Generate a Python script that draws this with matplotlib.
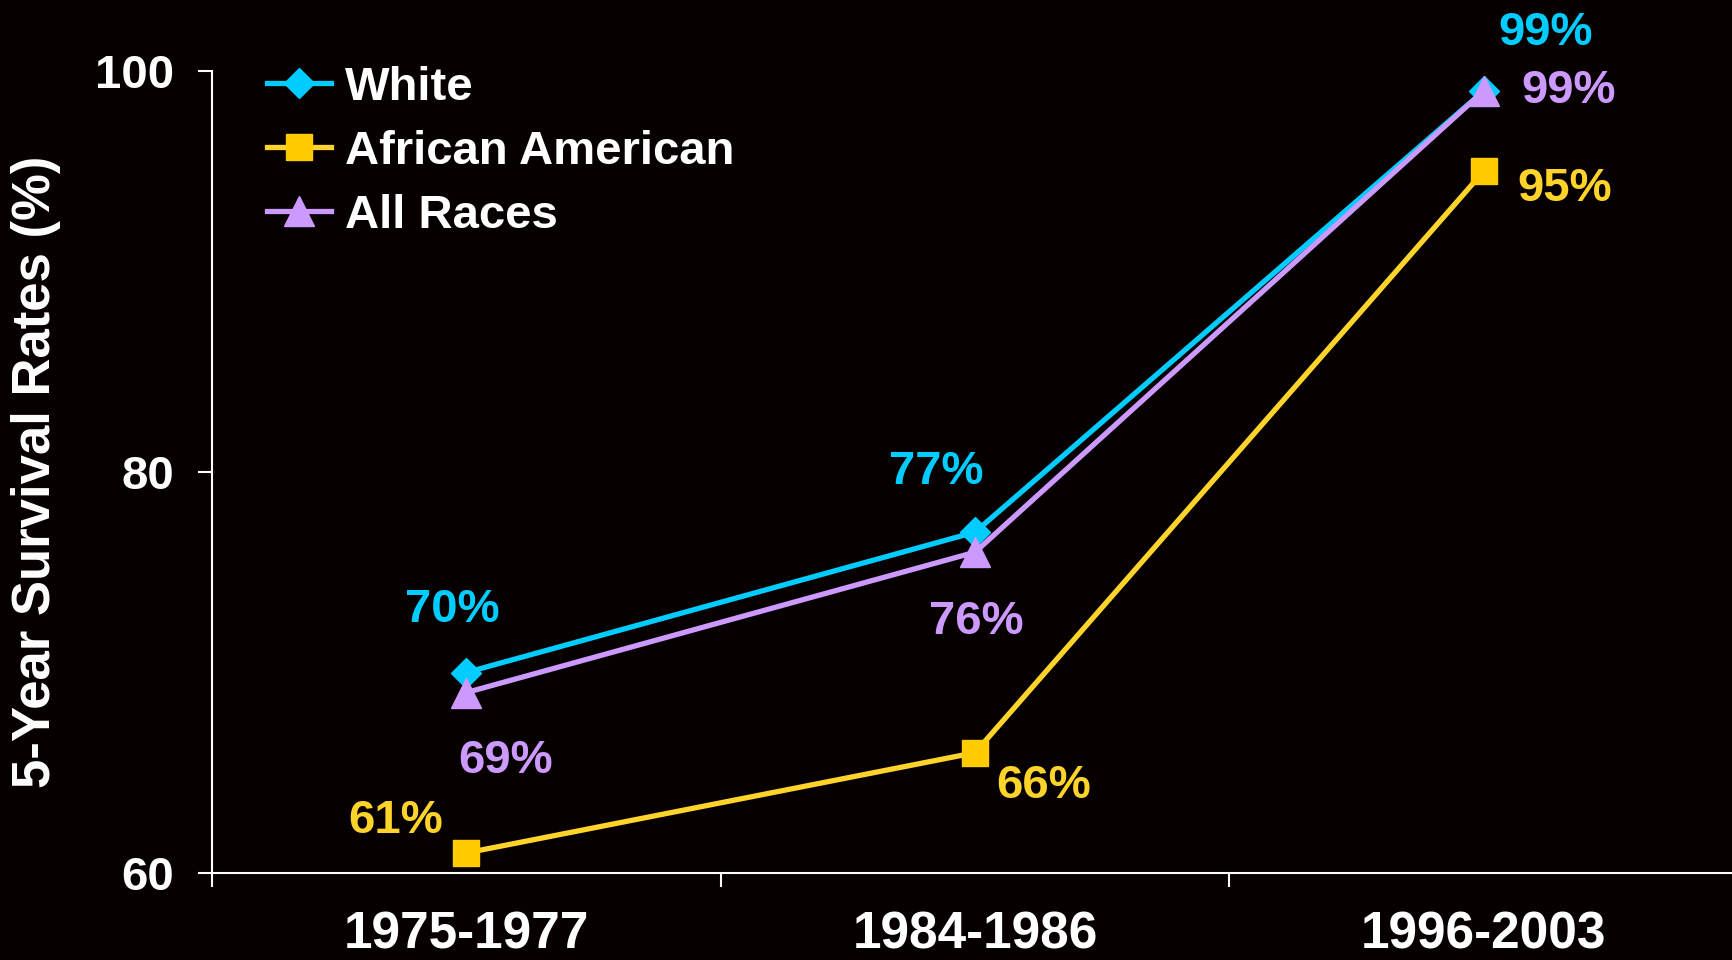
import numpy as np
import matplotlib
matplotlib.use('Agg')
import matplotlib.pyplot as plt

plt.rcParams['font.family'] = ['Liberation Sans', 'DejaVu Sans']
plt.rcParams['font.weight'] = 'bold'

periods = ['1975-1977', '1984-1986', '1996-2003']
white = [70, 77, 99]
african_american = [61, 66, 95]
all_races = [69, 76, 99]

bg = '#060000'
c_white = '#00CCFF'
c_aa = '#FFD42A'
c_aa_marker = '#FFCC00'
c_all = '#CC99FF'

fig = plt.figure(figsize=(17.33, 9.6), dpi=100, facecolor=bg)
ax = fig.add_axes([212 / 1733, 1 - 873 / 960, (1738 - 212) / 1733, (873 - 71) / 960])
ax.set_facecolor(bg)

x = np.arange(len(periods))
ax.plot(x, african_american, color=c_aa, lw=3.8, marker='s', ms=19,
        mfc=c_aa_marker, mec=c_aa_marker, label='African American', clip_on=False, zorder=3)
ax.plot(x, white, color=c_white, lw=3.8, marker='D', ms=15,
        mfc=c_white, mec=c_white, label='White', clip_on=False, zorder=4)
ax.plot(x, all_races, color=c_all, lw=3.8, marker='^', ms=21,
        mfc=c_all, mec=c_all, label='All Races', clip_on=False, zorder=5)

# data labels (offsets in pixels from each point)
white_off = [(-14, 63), (-39, 60), (62, 58)]
all_off = [(39, -68), (1, -70), (85, 0)]
aa_off = [(-71, 32), (69, -33), (81, -18)]
for vals, offs, col in [(white, white_off, c_white), (all_races, all_off, c_all),
                        (african_american, aa_off, c_aa)]:
    for i, v in enumerate(vals):
        ax.annotate(f'{v}%', (i, v), xytext=offs[i], textcoords='offset pixels',
                    ha='center', va='center', fontsize=34, fontweight='bold',
                    color=col, annotation_clip=False)

ax.set_xlim(-0.5, 2.5)
ax.set_ylim(60, 100)
ax.set_yticks([60, 80, 100])
ax.set_xticks(x)
ax.set_xticklabels(periods)
ax.set_xticks([-0.5, 0.5, 1.5], minor=True)
ax.tick_params(axis='x', which='major', length=0, pad=27, labelsize=37, colors='white')
ax.tick_params(axis='x', which='minor', length=10, width=1.5, direction='out', color='white')
ax.tick_params(axis='y', length=10, width=1.5, pad=17, labelsize=34, colors='white')
for lab in ax.get_xticklabels() + ax.get_yticklabels():
    lab.set_fontweight('bold')

for s in ['top', 'right']:
    ax.spines[s].set_visible(False)
for s in ['left', 'bottom']:
    ax.spines[s].set_color('white')
    ax.spines[s].set_linewidth(1.5)

fig.text(36 / 1733, 1 - 472 / 960, '5-Year Survival Rates (%)', rotation=90,
         ha='center', va='center', fontsize=38, fontweight='bold', color='white')

h, l = ax.get_legend_handles_labels()
order = [1, 0, 2]
leg = ax.legend([h[i] for i in order], [l[i] for i in order], loc='upper left',
                bbox_to_anchor=(267 / 1733, 1 - 66 / 960), bbox_transform=fig.transFigure,
                frameon=False, fontsize=34, handlelength=1.35, handletextpad=0.3,
                labelspacing=0.42, borderpad=0, borderaxespad=0)
for t in leg.get_texts():
    t.set_color('white')
    t.set_fontweight('bold')

fig.savefig('out.png', dpi=100, facecolor=bg)
